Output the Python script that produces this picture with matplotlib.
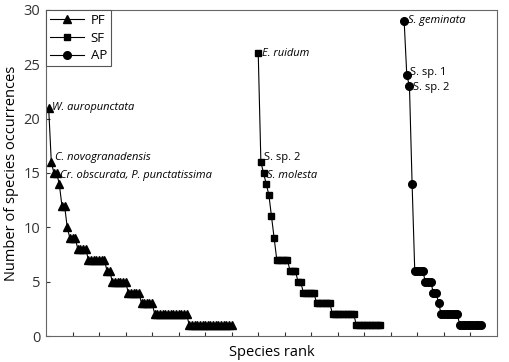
import matplotlib.pyplot as plt
import numpy as np

plt.rcParams['font.family'] = ['Open Sans', 'DejaVu Sans']

# occurrences per species, sorted by rank
pf = [21, 16, 15, 15, 14, 12, 12, 10, 9, 9, 9, 8, 8, 8, 8,
      7, 7, 7, 7, 7, 7, 7, 6, 6, 5, 5, 5, 5, 5, 5,
      4, 4, 4, 4, 4, 3, 3, 3, 3, 3] + [2] * 13 + [1] * 17
sf = [26, 16, 15, 14, 13, 11, 9, 7, 7, 7, 7, 7, 6, 6, 6, 5, 5,
      4, 4, 4, 4, 4, 3, 3, 3, 3, 3, 3] + [2] * 9 + [1] * 10
ap = [29, 24, 23, 14, 6, 6, 6, 6, 5, 5, 5, 4, 4, 3] + [2] * 7 + [1] * 9

pf_start, sf_start, ap_start = 1, 80, 135

pf_x = np.arange(len(pf)) + pf_start
sf_x = np.arange(len(sf)) + sf_start
ap_x = np.arange(len(ap)) + ap_start

fig = plt.figure(figsize=(5.1, 3.62), dpi=100)
ax = fig.add_axes([0.0902, 0.0718, 0.8843, 0.9006])

ax.plot(pf_x, pf, color='black', lw=0.8, marker='^', ms=5.5, label='PF')
ax.plot(sf_x, sf, color='black', lw=0.8, marker='s', ms=5, label='SF')
ax.plot(ap_x, ap, color='black', lw=0.8, marker='o', ms=5.5, label='AP')

# (x, y, text, style, vertical offset in points)
labels = [
    (pf_x[0], pf[0], 'W. auropunctata', 'italic', 0),
    (pf_x[1], pf[1], 'C. novogranadensis', 'italic', 3),
    (pf_x[3], pf[3], 'Cr. obscurata, P. punctatissima', 'italic', -1.5),
    (sf_x[0], sf[0], 'E. ruidum', 'italic', 0),
    (sf_x[1], sf[1], 'S. sp. 2', 'normal', 3),
    (sf_x[2], sf[2], 'S. molesta', 'italic', -1.5),
    (ap_x[0], ap[0], 'S. geminata', 'italic', 0),
    (ap_x[1], ap[1], 'S. sp. 1', 'normal', 2),
    (ap_x[2], ap[2], 'S. sp. 2', 'normal', -1),
]
for x, y, txt, style, dy in labels:
    ax.annotate(txt, (x, y), xytext=(2.5, dy), textcoords='offset points',
                fontsize=8, style=style, va='center', ha='left')

ax.set_xlim(0, 170)
ax.set_ylim(0, 30)
ax.set_xticks(np.arange(10, 170, 10))
ax.set_xticklabels([])
ax.set_yticks(np.arange(0, 31, 5))
ax.tick_params(direction='in', length=3, labelsize=10.5, colors='#333333')
ax.tick_params(axis='y', pad=4)
for s in ax.spines.values():
    s.set_color('#666666')

ax.set_xlabel('Species rank', fontsize=10.5, labelpad=3)
ax.set_ylabel('Number of species occurrences', fontsize=10.5, labelpad=3)

leg = ax.legend(loc='upper left', fontsize=9.5, fancybox=False, framealpha=1,
                borderaxespad=0, handlelength=2.6, labelspacing=0.35,
                borderpad=0.3, handletextpad=0.5)
leg.get_frame().set_edgecolor('#555555')
leg.get_frame().set_linewidth(0.8)

fig.savefig('out.png', dpi=100)
